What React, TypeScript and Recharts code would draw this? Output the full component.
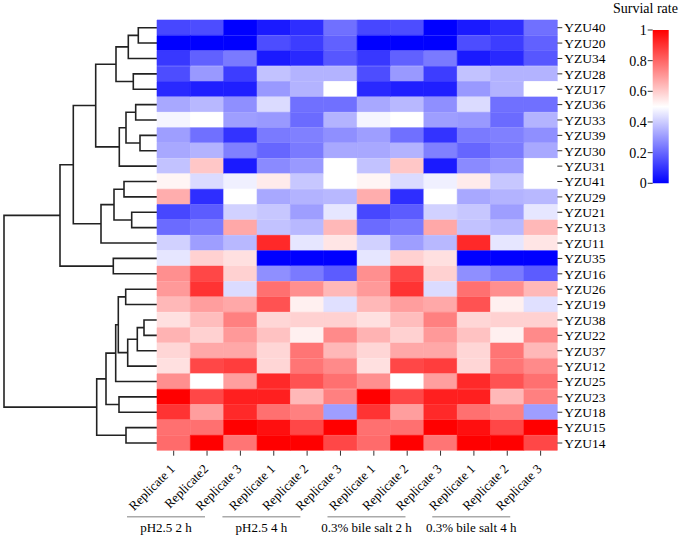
import React from 'react';
import { BarChart, Bar, XAxis, YAxis, Cell, ScatterChart, Scatter } from 'recharts';

// ---------- data ----------
const rowLabels = [
  'YZU40', 'YZU20', 'YZU34', 'YZU28', 'YZU17', 'YZU36', 'YZU33', 'YZU39', 'YZU30', 'YZU31',
  'YZU41', 'YZU29', 'YZU21', 'YZU13', 'YZU11', 'YZU35', 'YZU16', 'YZU26', 'YZU19', 'YZU38',
  'YZU22', 'YZU37', 'YZU12', 'YZU25', 'YZU23', 'YZU18', 'YZU15', 'YZU14',
];

const columnLabels = [
  'Replicate 1', 'Replicate2', 'Replicate 3',
  'Replicate 1', 'Replicate 2', 'Replicate 3',
  'Replicate 1', 'Replicate 2', 'Replicate 3',
  'Replicate 1', 'Replicate 2', 'Replicate 3',
];

const groupLabels = ['pH2.5 2 h', 'pH2.5 4 h', '0.3% bile salt 2 h', '0.3% bile salt 4 h'];
const groupCenters = [0.27, 3.13, 6.28, 9.42];

const ph2h_r1 = [0.14, 0, 0.11, 0.15, 0.08, 0.33, 0.48, 0.31, 0.33, 0.38, 0.52, 0.66, 0.14, 0.21, 0.41, 0.45, 0.72, 0.7, 0.64, 0.56, 0.65, 0.58, 0.56, 0.72, 1.0, 0.9, 0.78, 0.79];
const ph2h_r2 = [0.15, 0, 0.19, 0.3, 0.06, 0.36, 0.5, 0.22, 0.35, 0.61, 0.43, 0.09, 0.18, 0.24, 0.31, 0.59, 0.86, 0.9, 0.69, 0.63, 0.59, 0.67, 0.86, 0.5, 0.86, 0.69, 0.78, 1.0];
const ph2h_r3 = [0, 0, 0.24, 0.12, 0.06, 0.28, 0.31, 0.1, 0.25, 0.05, 0.47, 0.5, 0.41, 0.67, 0.36, 0.56, 0.59, 0.43, 0.67, 0.75, 0.7, 0.67, 0.88, 0.69, 0.94, 0.92, 1.0, 0.77];
const ph4h_r1 = [0.05, 0.15, 0.05, 0.38, 0.3, 0.43, 0.3, 0.24, 0.2, 0.27, 0.54, 0.33, 0.39, 0.38, 0.92, 0, 0.28, 0.78, 0.84, 0.58, 0.62, 0.58, 0.58, 0.92, 0.94, 0.78, 0.97, 1.0];
const ph4h_r2 = [0.09, 0.12, 0.08, 0.35, 0.35, 0.22, 0.21, 0.25, 0.24, 0.3, 0.39, 0.35, 0.31, 0.36, 0.45, 0, 0.24, 0.72, 0.53, 0.59, 0.53, 0.77, 0.77, 0.84, 0.64, 0.75, 0.86, 1.0];
const ph4h_r3 = [0.22, 0.19, 0.17, 0.35, 0.5, 0.22, 0.35, 0.28, 0.33, 0.5, 0.5, 0.36, 0.45, 0.64, 0.55, 0, 0.18, 0.64, 0.44, 0.59, 0.73, 0.64, 0.73, 0.78, 0.75, 0.31, 1.0, 0.86];
const bile2h_r1 = [0.14, 0, 0.11, 0.15, 0.08, 0.33, 0.48, 0.31, 0.33, 0.38, 0.52, 0.66, 0.14, 0.21, 0.41, 0.45, 0.72, 0.7, 0.64, 0.56, 0.65, 0.58, 0.56, 0.72, 1.0, 0.9, 0.78, 0.79];
const bile2h_r2 = [0.15, 0, 0.19, 0.3, 0.06, 0.36, 0.5, 0.22, 0.35, 0.61, 0.43, 0.09, 0.18, 0.24, 0.31, 0.59, 0.86, 0.9, 0.69, 0.63, 0.59, 0.67, 0.86, 0.5, 0.86, 0.69, 0.78, 1.0];
const bile2h_r3 = [0, 0, 0.24, 0.12, 0.06, 0.28, 0.31, 0.1, 0.25, 0.05, 0.47, 0.5, 0.41, 0.67, 0.36, 0.56, 0.59, 0.43, 0.67, 0.75, 0.7, 0.67, 0.88, 0.69, 0.94, 0.92, 1.0, 0.77];
const bile4h_r1 = [0.05, 0.15, 0.05, 0.38, 0.3, 0.43, 0.3, 0.24, 0.2, 0.27, 0.54, 0.33, 0.39, 0.38, 0.92, 0, 0.28, 0.78, 0.84, 0.58, 0.62, 0.58, 0.58, 0.92, 0.94, 0.78, 0.97, 1.0];
const bile4h_r2 = [0.09, 0.12, 0.08, 0.35, 0.35, 0.22, 0.21, 0.25, 0.24, 0.3, 0.39, 0.35, 0.31, 0.36, 0.45, 0, 0.24, 0.72, 0.53, 0.59, 0.53, 0.77, 0.77, 0.84, 0.64, 0.75, 0.86, 1.0];
const bile4h_r3 = [0.22, 0.19, 0.17, 0.35, 0.5, 0.22, 0.35, 0.28, 0.33, 0.5, 0.5, 0.36, 0.45, 0.64, 0.55, 0, 0.18, 0.64, 0.44, 0.59, 0.73, 0.64, 0.73, 0.78, 0.75, 0.31, 1.0, 0.86];

// dendrogram linkage (scipy style: leaves 0..27, merged node k gets id 28+k)
const dendroLeft = [0, 28, 3, 29, 5, 7, 32, 34, 31, 10, 12, 37, 39, 36, 15, 41, 17, 19, 45, 46, 44, 48, 24, 49, 26, 51, 43];
const dendroRight = [1, 2, 4, 30, 6, 8, 33, 9, 35, 11, 13, 38, 14, 40, 16, 42, 18, 20, 21, 22, 47, 23, 25, 50, 27, 52, 53];
const dendroHeight = [18.7, 28.7, 23.7, 41, 21.3, 17, 31, 37.7, 61.3, 33, 25.3, 43, 56, 83.7, 43.7, 97, 31.3, 13, 19.7, 29.3, 38.7, 41.3, 38, 51, 31, 60.3, 153];

const legendTicks = [0, 0.2, 0.4, 0.6, 0.8, 1];

// ---------- derived ----------
const columns = [ph2h_r1, ph2h_r2, ph2h_r3, ph4h_r1, ph4h_r2, ph4h_r3, bile2h_r1, bile2h_r2, bile2h_r3, bile4h_r1, bile4h_r2, bile4h_r3];
const colKeys = columns.map((_, j) => `c${j}`);
const rows = rowLabels.map((name) => {
  const r: any = { name };
  colKeys.forEach((k) => { r[k] = 1; });
  return r;
});
const colTicks = columns.map((_, j) => j + 0.5);

function colorFor(v: number) {
  if (v <= 0.5) {
    const c = Math.round(255 * (v / 0.5));
    return `rgb(${c},${c},255)`;
  }
  const c = Math.round(255 * (1 - (v - 0.5) / 0.5));
  return `rgb(255,${c},${c})`;
}

// each merge becomes a U-shaped polyline: child A -> node -> node -> child B
function buildLinks() {
  const n = rowLabels.length;
  const ys: number[] = rowLabels.map((_, i) => i + 0.5);
  const hs: number[] = rowLabels.map(() => 0);
  return dendroHeight.map((h, k) => {
    const a = dendroLeft[k];
    const b = dendroRight[k];
    const pts = [
      { x: hs[a], y: ys[a] },
      { x: h, y: ys[a] },
      { x: h, y: ys[b] },
      { x: hs[b], y: ys[b] },
    ];
    ys[n + k] = (ys[a] + ys[b]) / 2;
    hs[n + k] = h;
    return pts;
  });
}
const links = buildLinks();
const groupPoints = groupCenters.map((x) => ({ x, y: 0 }));

// ---------- ticks ----------
const RotTick = (props: any) => {
  const { x, y, payload } = props;
  const ax = x + 2;
  const ay = y + 11;
  return (
    <text x={ax} y={ay} transform={`rotate(-45, ${ax}, ${ay})`} textAnchor="end" fontSize={13} fill="#000">
      {columnLabels[Math.floor(payload.value)]}
    </text>
  );
};

const GroupTick = (props: any) => {
  const { x, y, payload } = props;
  const i = groupCenters.indexOf(payload.value);
  return (
    <g>
      <line x1={x - 39} x2={x + 39} y1={y + 6} y2={y + 6} stroke="#aaaaaa" strokeWidth={1.5} />
      <text x={x} y={y + 21} textAnchor="middle" fontSize={13} fill="#000">
        {groupLabels[i]}
      </text>
    </g>
  );
};

const NoDot = () => <g />;
const FONT = "'Times New Roman', 'Liberation Serif', serif";

export default function App() {
  return (
    <div style={{ position: 'absolute', left: 0, top: 0, width: 685, height: 538, fontFamily: FONT, background: '#fff' }}>
      {/* dendrogram */}
      <div style={{ position: 'absolute', left: 0, top: 0 }}>
        <ScatterChart width={160} height={538} margin={{ top: 20, bottom: 87.3, left: 0, right: 3 }}>
          <XAxis type="number" dataKey="x" domain={[0, 157]} reversed hide allowDataOverflow />
          <YAxis type="number" dataKey="y" domain={[0, rowLabels.length]} reversed hide allowDataOverflow />
          {links.map((pts, i) => (
            <Scatter
              key={i}
              data={pts}
              line={{ stroke: '#222', strokeWidth: 1.6 }}
              lineType="joint"
              shape={<NoDot />}
              isAnimationActive={false}
            />
          ))}
        </ScatterChart>
      </div>

      {/* group labels under the replicate labels */}
      <div style={{ position: 'absolute', left: 0, top: 0 }}>
        <ScatterChart width={685} height={538} margin={{ top: 0, bottom: 0, left: 157, right: 127.7 }}>
          <XAxis
            type="number"
            dataKey="x"
            domain={[0, 12]}
            ticks={groupCenters}
            interval={0}
            height={27.3}
            axisLine={false}
            tickLine={false}
            tickSize={0}
            tickMargin={0}
            tick={<GroupTick />}
            allowDataOverflow
          />
          <YAxis type="number" dataKey="y" domain={[0, 1]} hide />
          <Scatter data={groupPoints} shape={<NoDot />} isAnimationActive={false} />
        </ScatterChart>
      </div>

      {/* heatmap */}
      <div style={{ position: 'absolute', left: 0, top: 0 }}>
        <BarChart
          layout="vertical"
          width={685}
          height={538}
          data={rows}
          margin={{ top: 20, right: 67.7, bottom: 27.3, left: 157 }}
          barCategoryGap={0}
          barGap={0}
        >
          <XAxis
            type="number"
            domain={[0, 12]}
            ticks={colTicks}
            interval={0}
            height={60}
            axisLine={false}
            tickLine={{ stroke: '#333' }}
            tickSize={5}
            tickMargin={3}
            tick={<RotTick />}
          />
          <YAxis
            type="category"
            dataKey="name"
            orientation="right"
            width={60}
            interval={0}
            axisLine={false}
            tickLine={{ stroke: '#333' }}
            tickSize={5}
            tickMargin={2}
            tick={{ fontSize: 13.5, fill: '#000' }}
          />
          {colKeys.map((k, j) => (
            <Bar key={k} dataKey={k} stackId="h" isAnimationActive={false}>
              {rows.map((_, i) => {
                const f = colorFor(columns[j][i]);
                return <Cell key={i} fill={f} stroke={f} strokeWidth={0.6} />;
              })}
            </Bar>
          ))}
        </BarChart>
      </div>

      {/* colour legend */}
      <div style={{ position: 'absolute', left: 613, top: 1, fontSize: 14, lineHeight: '16px', color: '#000', whiteSpace: 'nowrap' }}>
        Survial rate
      </div>
      <div style={{ position: 'absolute', left: 600, top: 0 }}>
        <BarChart width={80} height={200} data={[{ k: 's', v: 1 }]} margin={{ top: 30, bottom: 16.7, left: 12.7, right: 11.7 }} barCategoryGap={0}>
          <defs>
            <linearGradient id="survGrad" x1="0" y1="0" x2="0" y2="1">
              <stop offset="0%" stopColor="#ff0000" />
              <stop offset="50%" stopColor="#ffffff" />
              <stop offset="100%" stopColor="#0000ff" />
            </linearGradient>
          </defs>
          <XAxis dataKey="k" hide />
          <YAxis
            type="number"
            domain={[0, 1]}
            ticks={legendTicks}
            interval={0}
            width={40}
            axisLine={false}
            tickLine={{ stroke: '#333' }}
            tickSize={5}
            tickMargin={1}
            tick={{ fontSize: 14, fill: '#000' }}
          />
          <Bar dataKey="v" fill="url(#survGrad)" isAnimationActive={false} />
        </BarChart>
      </div>
    </div>
  );
}
